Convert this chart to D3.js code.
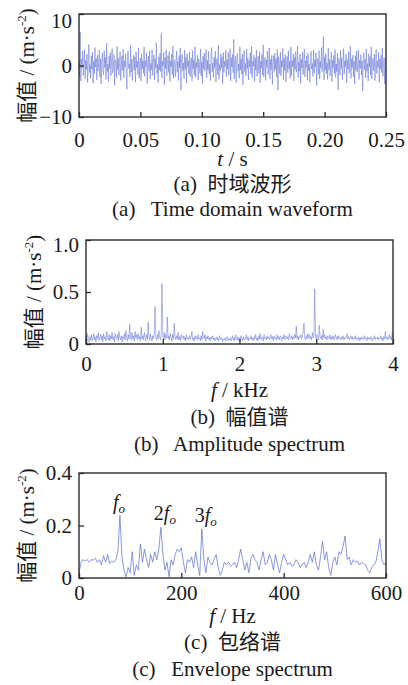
<!DOCTYPE html>
<html>
<head>
<meta charset="utf-8">
<script src="https://cdn.jsdelivr.net/npm/d3@7"></script>
<style>
body { margin: 0; background: #fff; }
svg text { font-family: "Liberation Serif", "Times New Roman", serif; fill: #1a1a1a; }
.cjk { font-family: "Noto Sans CJK SC", sans-serif; }
.frame { fill: none; stroke: #2b2b2b; stroke-width: 1.4; }
.trace { fill: none; stroke: #5a6dd2; stroke-width: 0.5; }
.trace.env { stroke-width: 0.7; }
.axis path { display: none; }
.axis line { stroke: #2b2b2b; stroke-width: 1.3; }
.axis text { font-size: 21px; font-family: "Liberation Serif", serif; fill: #1a1a1a; }
</style>
</head>
<body>
<div id="chart"></div>
<script>
// (a) time domain waveform, m/s^2, one sample every 0.5 ms
var timeStep = 0.0005;
var timeValues = [
	0.8,-2.1,6.5,-3.0,1.2,-0.5,2.8,-1.9,0.4,3.1,-2.6,1.0,-0.8,2.2,-3.3,0.6,4.1,-1.4,0.2,-2.5,
	1.9,-0.7,2.6,-3.4,0.9,-1.6,3.5,-0.3,1.4,-2.8,2.0,-1.1,0.5,3.0,-2.2,1.3,-3.6,0.7,2.4,-0.9,
	-1.8,2.9,-0.4,1.6,-2.7,4.3,-1.2,0.3,-3.1,1.8,-0.6,2.5,-2.0,0.8,3.3,-1.5,-0.2,2.1,-3.8,1.1,
	0.4,-2.3,3.7,-0.8,1.5,-1.9,0.6,2.7,-2.9,0.1,1.9,-1.0,3.2,-2.4,0.9,-0.3,2.3,-1.7,-4.6,1.6,
	2.8,-0.6,0.3,-2.2,3.9,-1.3,1.2,-2.9,0.5,2.0,-0.9,1.7,-3.2,2.6,-0.4,0.8,-1.8,3.4,-2.5,0.2,
	1.4,-3.0,2.2,-0.7,0.9,-1.5,3.6,-2.1,1.0,-0.2,2.5,-3.5,0.6,1.8,-1.1,2.9,-2.6,0.4,-0.8,3.1,
	-1.9,0.7,2.0,-2.8,1.3,-0.5,4.4,-1.6,0.2,-3.3,1.7,-0.9,2.4,-1.2,6.2,-2.4,0.8,-0.1,2.6,-3.7,
	1.5,-0.6,3.0,-2.0,0.3,1.9,-1.4,2.7,-3.1,0.9,-0.3,2.2,-1.8,3.8,-2.5,0.6,1.1,-2.2,0.4,2.8,
	-1.3,0.8,-2.9,1.9,-0.5,3.4,-4.8,1.2,2.1,-1.0,0.5,-2.6,3.0,-0.8,1.6,-3.4,2.3,-0.2,0.9,-1.7,
	2.6,-2.1,0.3,1.5,-3.0,2.9,-0.7,1.1,-1.9,3.6,-2.3,0.6,-0.4,2.0,-2.8,1.3,0.2,-1.5,3.2,-2.0,
	0.7,-3.6,1.8,-0.6,2.4,-1.1,0.4,3.1,-2.4,1.0,-0.9,2.7,-1.6,0.3,-2.9,1.9,3.5,-1.2,0.5,-2.3,
	1.6,-0.4,2.8,-3.2,0.9,1.4,-1.8,3.9,-2.7,0.2,-1.0,2.3,-0.5,1.7,-3.5,2.5,-1.3,0.8,-0.2,3.0,
	-2.2,1.2,-0.7,2.6,-1.9,0.5,3.3,-3.0,1.5,-0.3,2.1,-1.4,5.1,-2.6,0.6,1.8,-3.3,0.9,2.4,-1.1,
	0.3,-2.5,3.6,-0.8,1.3,-1.7,2.2,-3.8,0.7,2.9,-1.2,0.4,-2.0,3.2,-0.6,1.5,-2.8,1.0,-0.3,2.5,
	-1.6,3.7,-2.4,0.8,-0.1,2.0,-3.1,1.4,-0.9,3.0,-2.1,0.6,1.8,-1.5,2.7,-3.4,0.9,-0.5,2.2,-1.8,
	4.0,-2.2,0.5,1.6,-2.9,1.1,-0.4,2.8,-1.7,0.2,3.4,-2.6,1.2,-0.8,2.0,-3.7,0.6,1.9,-1.2,2.4,
	-0.7,1.3,-2.3,3.1,-4.8,1.7,0.4,-1.6,2.6,-2.0,0.9,-0.3,3.3,-2.7,1.4,-1.0,2.1,-3.2,0.5,1.8,
	-1.4,2.9,-0.6,0.8,-2.5,3.6,-1.9,1.0,-0.2,2.3,-3.0,1.6,-0.8,2.7,-1.3,0.3,3.8,-2.4,0.7,-1.1,
	2.2,-3.5,1.2,-0.5,2.6,-1.8,0.6,3.2,-2.2,0.9,-0.4,1.9,-2.9,2.4,-1.0,0.2,-3.3,1.5,2.8,-0.7,
	0.4,-2.1,3.0,-1.5,1.1,-0.3,2.5,-3.9,1.3,0.6,-1.7,2.9,-2.6,0.8,-0.5,3.5,-1.2,0.1,5.6,-2.8,
	1.7,-0.9,2.3,-1.6,0.5,-2.7,3.4,-0.8,1.2,-2.0,0.7,2.6,-3.1,1.0,-0.4,2.0,-1.5,3.1,-2.3,0.3,
	-1.2,2.4,-4.7,1.4,0.8,-1.9,2.9,-0.6,1.5,-2.8,0.4,3.3,-1.7,0.9,-0.2,2.2,-3.4,1.1,-0.7,2.7,
	-1.5,0.6,3.7,-2.5,1.3,-0.4,2.0,-2.2,0.8,-3.6,1.9,-0.9,2.8,-1.3,0.2,3.0,-2.7,1.0,-0.5,2.1,
	-1.8,0.9,-5.0,1.6,2.5,-0.8,1.2,-2.4,3.2,-1.1,0.4,-3.0,2.3,-0.3,1.7,-1.9,3.6,-2.6,0.6,1.4,
	-1.0,2.2,-2.9,0.5,3.1,-1.6,0.8,-0.4,2.6,-3.3,1.3,-0.7,2.0,-1.4,3.4,-2.1,0.3,1.5,-3.6,0.9,
	1.2
];
var timeXTicks = [0, 0.05, 0.10, 0.15, 0.20, 0.25];
var timeYTicks = [-10, 0, 10];

// (b) amplitude spectrum, one line every 10 Hz (x axis in kHz)
var ampStep = 0.01;
var ampValues = [
	0.08,0.03,0.10,0.05,0.02,0.07,0.04,0.09,0.03,0.06,
	0.10,0.04,0.07,0.02,0.08,0.05,0.11,0.03,0.06,0.09,
	0.04,0.08,0.02,0.10,0.05,0.07,0.03,0.12,0.06,0.04,
	0.09,0.03,0.08,0.05,0.11,0.04,0.07,0.02,0.10,0.06,
	0.05,0.09,0.03,0.12,0.06,0.04,0.08,0.02,0.07,0.05,
	0.10,0.04,0.13,0.06,0.03,0.09,0.05,0.19,0.07,0.04,
	0.11,0.05,0.08,0.03,0.12,0.06,0.09,0.04,0.10,0.05,
	0.07,0.03,0.16,0.05,0.08,0.04,0.11,0.06,0.03,0.09,
	0.05,0.21,0.07,0.04,0.10,0.06,0.03,0.08,0.05,0.11,
	0.36,0.06,0.04,0.09,0.05,0.13,0.07,0.04,0.10,0.58,
	0.08,0.05,0.11,0.04,0.09,0.06,0.26,0.05,0.08,0.04,
	0.10,0.06,0.03,0.09,0.05,0.20,0.07,0.04,0.08,0.05,
	0.11,0.04,0.07,0.03,0.09,0.06,0.05,0.08,0.04,0.07,
	0.03,0.09,0.05,0.06,0.04,0.08,0.05,0.07,0.12,0.04,
	0.06,0.03,0.08,0.05,0.07,0.04,0.09,0.05,0.06,0.03,
	0.08,0.04,0.12,0.06,0.05,0.09,0.03,0.07,0.05,0.08,
	0.04,0.06,0.03,0.07,0.05,0.08,0.04,0.06,0.03,0.05,
	0.07,0.04,0.06,0.03,0.08,0.05,0.04,0.06,0.02,0.05,
	0.04,0.06,0.03,0.05,0.07,0.03,0.05,0.04,0.06,0.03,
	0.05,0.08,0.04,0.06,0.03,0.09,0.05,0.04,0.07,0.03,
	0.06,0.04,0.08,0.05,0.03,0.07,0.04,0.06,0.05,0.09,
	0.04,0.07,0.03,0.06,0.05,0.08,0.04,0.06,0.03,0.07,
	0.05,0.09,0.04,0.06,0.03,0.08,0.05,0.10,0.04,0.06,
	0.07,0.03,0.09,0.05,0.06,0.04,0.08,0.05,0.07,0.04,
	0.06,0.09,0.05,0.07,0.03,0.08,0.05,0.06,0.04,0.09,
	0.05,0.07,0.04,0.08,0.06,0.03,0.07,0.05,0.09,0.04,
	0.06,0.08,0.05,0.07,0.04,0.10,0.06,0.05,0.08,0.04,
	0.07,0.05,0.09,0.06,0.17,0.05,0.08,0.04,0.07,0.06,
	0.09,0.05,0.08,0.12,0.20,0.06,0.04,0.08,0.05,0.10,
	0.06,0.09,0.05,0.07,0.04,0.11,0.06,0.08,0.53,0.07,
	0.05,0.09,0.06,0.04,0.18,0.07,0.05,0.08,0.04,0.14,
	0.06,0.09,0.05,0.07,0.04,0.08,0.06,0.05,0.09,0.04,
	0.07,0.05,0.08,0.04,0.06,0.09,0.05,0.07,0.04,0.08,
	0.05,0.06,0.04,0.07,0.05,0.08,0.04,0.06,0.05,0.07,
	0.10,0.05,0.07,0.04,0.06,0.08,0.05,0.07,0.04,0.06,
	0.05,0.08,0.04,0.06,0.05,0.07,0.03,0.06,0.04,0.07,
	0.05,0.06,0.04,0.08,0.05,0.06,0.03,0.07,0.05,0.06,
	0.04,0.07,0.05,0.03,0.06,0.05,0.08,0.04,0.06,0.05,
	0.07,0.04,0.06,0.05,0.08,0.04,0.06,0.03,0.07,0.05,
	0.12,0.05,0.07,0.04,0.06,0.09,0.05,0.07,0.04,0.11,
	0.06
];
var ampXTicks = [0, 1, 2, 3, 4];
var ampYTicks = [0, 0.5, 1.0];

// (c) envelope spectrum, one line every 4 Hz
var envStep = 4;
var envValues = [
	0.02,0.06,0.07,0.065,0.07,0.06,0.07,0.068,0.075,0.06,
	0.07,0.05,0.085,0.06,0.09,0.055,0.065,0.06,0.07,0.10,
	0.238,0.08,0.03,0.005,0.04,0.02,0.10,0.01,0.05,0.03,
	0.13,0.06,0.11,0.07,0.04,0.09,0.06,0.10,0.07,0.11,
	0.193,0.09,0.03,0.06,0.005,0.07,0.05,0.09,0.11,0.10,
	0.115,0.06,0.02,0.07,0.06,0.08,0.04,0.10,0.05,0.01,
	0.187,0.07,0.02,0.08,0.06,0.05,0.07,0.09,0.04,0.01,
	0.03,0.06,0.05,0.06,0.045,0.05,0.06,0.04,0.07,0.11,
	0.07,0.03,0.06,0.02,0.075,0.09,0.07,0.06,0.03,0.07,
	0.10,0.05,0.06,0.09,0.07,0.03,0.09,0.05,0.02,0.06,
	0.09,0.07,0.05,0.06,0.045,0.05,0.07,0.06,0.04,0.05,
	0.06,0.04,0.06,0.09,0.06,0.10,0.05,0.03,0.08,0.14,
	0.07,0.10,0.04,0.01,0.06,0.08,0.05,0.10,0.09,0.12,
	0.16,0.07,0.08,0.05,0.07,0.06,0.065,0.05,0.06,0.055,
	0.05,0.03,0.02,0.04,0.05,0.06,0.10,0.15,0.07,0.05,
	0.06
];
var envXTicks = [0, 200, 400, 600];
var envYTicks = [0, 0.2, 0.4];
var envMarks = [
	{ lead: "", freq: 80 },
	{ lead: "2", freq: 160 },
	{ lead: "3", freq: 240 }
];

var svg = d3.select("#chart").append("svg")
	.attr("width", 408)
	.attr("height", 685);

function fmtDec(n) {
	return function(d) { return d === 0 ? "0" : d3.format("." + n + "f")(d); };
}

function panel(cfg) {
	var x = d3.scaleLinear().domain(cfg.xDomain).range([cfg.x0, cfg.x1]);
	var y = d3.scaleLinear().domain(cfg.yDomain).range([cfg.y1, cfg.y0]);
	var cx = (cfg.x0 + cfg.x1) / 2;
	var g = svg.append("g");

	var line = d3.line()
		.x(function(d, i) { return x(i * cfg.step); })
		.y(function(d) { return y(d); });
	g.append("path")
		.attr("class", "trace " + cfg.cls)
		.attr("d", line(cfg.values));

	// inward ticks
	var xa = g.append("g")
		.attr("class", "axis")
		.attr("transform", "translate(0," + cfg.y1 + ")")
		.call(d3.axisBottom(x).tickValues(cfg.xTicks).tickFormat(cfg.xFmt).tickSize(-5).tickPadding(0));
	xa.selectAll("text")
		.attr("dy", null)
		.attr("y", cfg.xTickBase - cfg.y1);

	var ya = g.append("g")
		.attr("class", "axis")
		.attr("transform", "translate(" + cfg.x0 + ",0)")
		.call(d3.axisLeft(y).tickValues(cfg.yTicks).tickFormat(cfg.yFmt).tickSize(-5).tickPadding(7));
	ya.selectAll("text")
		.filter(function(d) { return d === cfg.yDomain[1]; })
		.attr("dy", function() { return (0.32 * 21 + cfg.topShift) + "px"; });

	g.append("rect")
		.attr("class", "frame")
		.attr("x", cfg.x0)
		.attr("y", cfg.y0)
		.attr("width", cfg.x1 - cfg.x0)
		.attr("height", cfg.y1 - cfg.y0);

	// y title, rotated
	var cy = (cfg.y0 + cfg.y1) / 2;
	var yt = g.append("text")
		.attr("transform", "translate(" + cfg.yTitleX + "," + cy + ") rotate(-90)")
		.attr("text-anchor", "middle")
		.style("font-size", "21px");
	yt.append("tspan").attr("class", "cjk").text("幅值");
	yt.append("tspan").text(" / (m·s");
	yt.append("tspan").attr("dy", -8).style("font-size", "13px").text("-2");
	yt.append("tspan").attr("dy", 8).text(")");

	// x title
	var xt = g.append("text")
		.attr("x", cx)
		.attr("y", cfg.xTitleBase)
		.attr("text-anchor", "middle")
		.style("font-size", "21px");
	xt.append("tspan").style("font-style", "italic").text(cfg.xVar);
	xt.append("tspan").text(" / " + cfg.xUnit);

	// captions
	var c1 = g.append("text")
		.attr("x", cx)
		.attr("y", cfg.cap1Base)
		.attr("text-anchor", "middle")
		.style("font-size", "21px");
	c1.append("tspan").text(cfg.tag + "\u00a0 ");
	c1.append("tspan").attr("class", "cjk").text(cfg.capZh);
	g.append("text")
		.attr("x", cx)
		.attr("y", cfg.cap2Base)
		.attr("text-anchor", "middle")
		.style("font-size", "21px")
		.text(cfg.tag + "\u00a0\u00a0 " + cfg.capEn);

	return { x: x, y: y, g: g };
}

panel({
	values: timeValues, step: timeStep, cls: "time",
	xDomain: [0, 0.25], yDomain: [-10, 10],
	xTicks: timeXTicks, yTicks: timeYTicks,
	xFmt: fmtDec(2), yFmt: d3.format("d"),
	x0: 79, x1: 386, y0: 14, y1: 117, topShift: 7,
	xTickBase: 147, xTitleBase: 166, cap1Base: 191, cap2Base: 216, yTitleX: 34,
	xVar: "t", xUnit: "s", tag: "(a)", capZh: "时域波形", capEn: "Time domain waveform"
});

panel({
	values: ampValues, step: ampStep, cls: "amp",
	xDomain: [0, 4], yDomain: [0, 1.0],
	xTicks: ampXTicks, yTicks: ampYTicks,
	xFmt: d3.format("d"), yFmt: fmtDec(1),
	x0: 86, x1: 393, y0: 240, y1: 344, topShift: 5,
	xTickBase: 371, xTitleBase: 397, cap1Base: 424, cap2Base: 451, yTitleX: 41,
	xVar: "f", xUnit: "kHz", tag: "(b)", capZh: "幅值谱", capEn: "Amplitude spectrum"
});

var env = panel({
	values: envValues, step: envStep, cls: "env",
	xDomain: [0, 600], yDomain: [0, 0.4],
	xTicks: envXTicks, yTicks: envYTicks,
	xFmt: d3.format("d"), yFmt: fmtDec(1),
	x0: 79, x1: 386, y0: 473, y1: 578, topShift: 0,
	xTickBase: 600, xTitleBase: 623, cap1Base: 649, cap2Base: 676, yTitleX: 34,
	xVar: "f", xUnit: "Hz", tag: "(c)", capZh: "包络谱", capEn: "Envelope spectrum"
});

// fault frequency labels above the envelope peaks
envMarks.forEach(function(m) {
	var peak = envValues[m.freq / envStep];
	var t = env.g.append("text")
		.attr("x", env.x(m.freq) + (m.lead ? 4 : -1))
		.attr("y", env.y(peak) - 7)
		.attr("text-anchor", "middle")
		.style("font-size", "20px");
	if (m.lead) t.append("tspan").text(m.lead);
	t.append("tspan").style("font-style", "italic").text("f");
	t.append("tspan").attr("dy", 4).style("font-style", "italic").style("font-size", "13px").text("o");
});
</script>
</body>
</html>
